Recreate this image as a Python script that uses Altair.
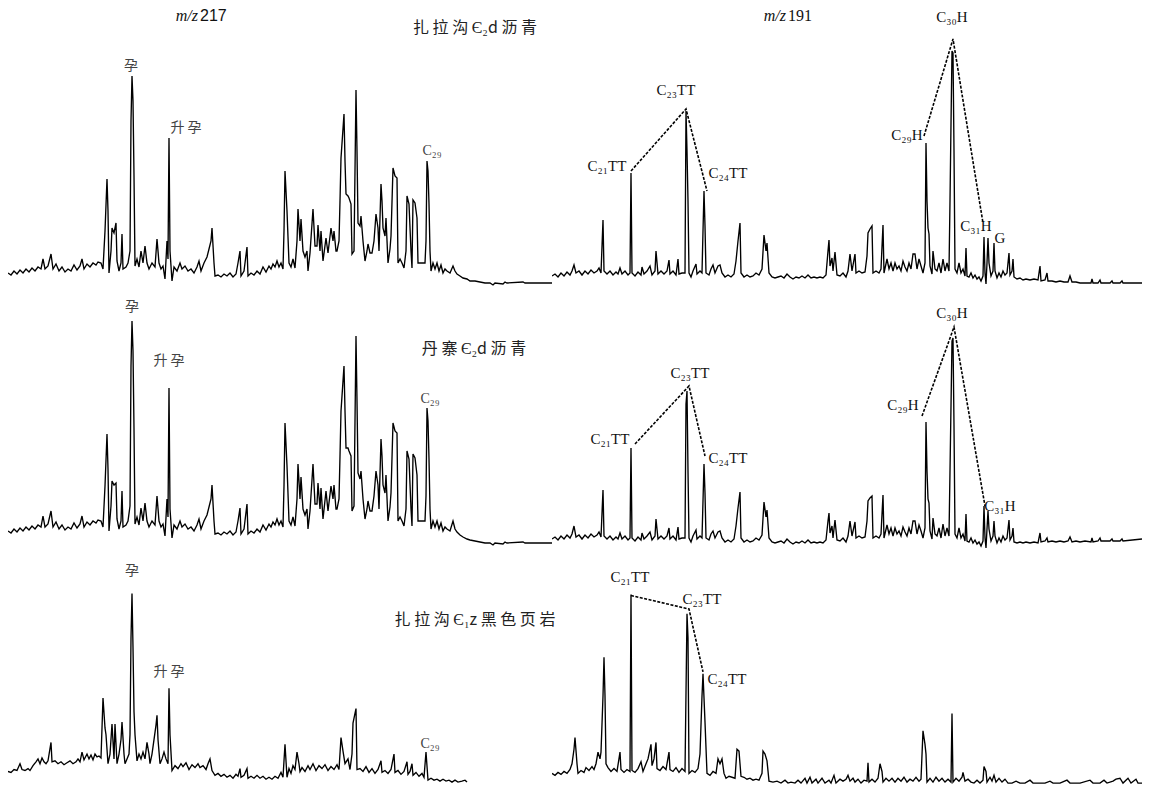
import altair as alt
import pandas as pd

SERIF = "Liberation Serif"
SANS = "Liberation Sans"
CJK = "Noto Sans CJK SC"

# ---------------- traces: (scan, abundance) ----------------
# m/z 217, 扎拉沟 Є2d 沥青
A_TRACE = [
    (0, 23), (3, 21), (6, 25), (9, 22), (12, 26), (15, 23), (18, 27), (21, 24), (24, 28), (27, 25),
    (30, 29), (33, 27), (35, 37), (37, 27), (40, 30), (43, 42), (45, 27), (48, 32), (51, 25), (54, 29),
    (57, 24), (60, 27), (63, 25), (66, 31), (69, 26), (72, 30), (74, 37), (76, 27), (79, 32), (82, 29),
    (85, 33), (88, 31), (90, 34), (93, 33), (95, 27), (97, 65), (99, 117), (100, 85), (101, 23), (103, 45),
    (104, 68), (106, 63), (108, 73), (109, 35), (111, 25), (113, 33), (114, 62), (115, 27), (118, 29), (120, 33),
    (122, 45), (123, 175), (124, 220), (125, 195), (126, 120), (127, 30), (129, 37), (131, 29), (133, 45), (135, 33),
    (137, 50), (139, 33), (141, 27), (144, 33), (147, 29), (149, 57), (151, 33), (153, 27), (155, 30), (157, 17),
    (159, 55), (160, 37), (161, 158), (162, 45), (164, 15), (166, 29), (169, 25), (172, 33), (174, 27), (177, 30),
    (180, 25), (183, 27), (186, 23), (189, 29), (191, 35), (193, 25), (196, 33), (199, 39), (201, 47), (203, 55),
    (204, 68), (206, 33), (207, 20), (210, 21), (213, 19), (216, 22), (219, 20), (222, 23), (225, 19), (228, 22),
    (230, 33), (232, 45), (233, 20), (236, 25), (239, 49), (240, 20), (243, 23), (246, 21), (249, 25), (252, 22),
    (255, 29), (258, 24), (261, 30), (263, 27), (265, 32), (267, 29), (269, 35), (271, 29), (273, 33), (275, 27),
    (276, 65), (277, 125), (279, 85), (281, 33), (283, 29), (285, 37), (287, 28), (289, 55), (290, 87), (292, 55),
    (293, 77), (295, 45), (297, 39), (299, 45), (300, 25), (302, 43), (305, 87), (307, 50), (309, 50), (310, 71),
    (312, 45), (313, 65), (315, 35), (318, 58), (320, 43), (323, 68), (325, 55), (326, 65), (328, 45), (329, 45),
    (331, 55), (332, 95), (333, 138), (336, 182), (337, 135), (338, 102), (340, 100), (341, 98), (343, 92), (344, 42),
    (346, 45), (348, 206), (349, 145), (350, 73), (352, 70), (353, 80), (355, 55), (357, 35), (359, 45), (360, 52),
    (362, 43), (364, 43), (366, 55), (368, 82), (370, 68), (371, 45), (373, 112), (374, 95), (375, 68), (377, 60),
    (378, 78), (380, 33), (382, 47), (383, 60), (385, 128), (387, 120), (389, 118), (390, 33), (392, 37), (394, 33),
    (396, 28), (398, 45), (399, 100), (401, 92), (403, 45), (404, 28), (405, 96), (407, 93), (409, 78), (410, 33),
    (412, 33), (415, 33), (417, 33), (418, 55), (419, 135), (420, 125), (421, 92), (422, 45), (423, 25), (425, 33),
    (427, 27), (429, 33), (431, 25), (433, 31), (435, 23), (437, 27), (439, 25), (442, 23), (445, 30), (447, 25),
    (449, 22), (452, 20), (455, 18), (459, 17), (462, 15), (467, 15), (472, 14), (477, 13), (482, 13), (485, 11),
    (487, 13), (495, 12), (497, 14), (499, 13), (515, 14), (517, 13), (544, 13),
]

# m/z 217, 丹寨 Є2d 沥青
B_TRACE = [
    (0, 20), (3, 18), (6, 22), (9, 19), (12, 23), (15, 20), (18, 24), (21, 21), (24, 25), (27, 22),
    (30, 26), (33, 24), (35, 35), (37, 24), (40, 27), (43, 40), (45, 24), (48, 29), (51, 22), (54, 26),
    (57, 21), (60, 24), (63, 22), (66, 28), (69, 23), (72, 27), (74, 35), (76, 24), (79, 29), (82, 26),
    (85, 30), (88, 28), (90, 31), (93, 30), (95, 24), (97, 65), (99, 117), (100, 82), (101, 20), (103, 45),
    (104, 70), (106, 66), (108, 68), (109, 32), (111, 22), (113, 30), (114, 60), (115, 24), (118, 26), (120, 30),
    (122, 45), (123, 185), (124, 230), (125, 200), (126, 122), (127, 27), (129, 34), (131, 26), (133, 43), (135, 30),
    (137, 48), (139, 30), (141, 24), (144, 30), (147, 26), (149, 55), (151, 30), (153, 24), (155, 27), (157, 15),
    (159, 52), (160, 34), (161, 163), (162, 42), (164, 13), (166, 26), (169, 22), (172, 30), (174, 24), (177, 27),
    (180, 22), (183, 24), (186, 20), (189, 26), (191, 32), (193, 22), (196, 30), (199, 36), (201, 44), (203, 52),
    (204, 66), (206, 30), (207, 17), (210, 18), (213, 16), (216, 19), (219, 17), (222, 20), (225, 16), (228, 19),
    (230, 30), (232, 43), (233, 17), (236, 22), (239, 47), (240, 17), (243, 20), (246, 18), (249, 22), (252, 19),
    (255, 26), (258, 21), (261, 27), (263, 24), (265, 29), (267, 26), (269, 32), (271, 26), (273, 30), (275, 24),
    (276, 65), (277, 128), (279, 85), (281, 30), (283, 26), (285, 34), (287, 25), (289, 52), (290, 87), (292, 52),
    (293, 74), (295, 42), (297, 36), (299, 42), (300, 22), (302, 40), (305, 87), (307, 47), (309, 47), (310, 68),
    (312, 42), (313, 63), (315, 32), (318, 60), (320, 40), (323, 65), (325, 52), (326, 66), (328, 42), (329, 42),
    (331, 52), (332, 95), (333, 140), (336, 185), (337, 140), (338, 103), (340, 103), (341, 100), (343, 95), (344, 40),
    (346, 45), (348, 215), (349, 150), (350, 78), (352, 72), (353, 80), (355, 52), (357, 32), (359, 42), (360, 50),
    (362, 40), (364, 40), (366, 55), (368, 80), (370, 66), (371, 42), (373, 112), (374, 95), (375, 66), (377, 58),
    (378, 76), (380, 30), (382, 44), (383, 58), (385, 128), (387, 120), (389, 118), (390, 30), (392, 34), (394, 30),
    (396, 25), (398, 42), (399, 100), (401, 92), (403, 42), (404, 25), (405, 97), (407, 93), (409, 76), (410, 30),
    (412, 30), (415, 30), (417, 30), (418, 55), (419, 143), (420, 130), (421, 92), (422, 42), (423, 22), (425, 30),
    (427, 24), (429, 30), (431, 22), (433, 28), (435, 20), (437, 24), (439, 22), (442, 20), (445, 30), (447, 22),
    (449, 19), (452, 16), (455, 14), (459, 12), (462, 11), (467, 10), (472, 9), (477, 8), (482, 8), (485, 6),
    (487, 8), (495, 7), (497, 9), (499, 8), (515, 9), (517, 8), (544, 8),
]

# m/z 217, 扎拉沟 Є1z 黑色页岩
C_TRACE = [
    (0, 12), (3, 11), (6, 14), (9, 13), (12, 20), (14, 14), (17, 13), (20, 15), (22, 13), (25, 18),
    (28, 22), (30, 25), (32, 20), (34, 26), (36, 22), (38, 20), (40, 23), (43, 42), (44, 22), (47, 23),
    (50, 20), (53, 22), (56, 19), (59, 21), (62, 23), (65, 20), (68, 22), (70, 25), (72, 22), (74, 32),
    (76, 24), (79, 30), (81, 25), (83, 29), (85, 24), (87, 30), (89, 27), (91, 28), (93, 26), (95, 88),
    (97, 57), (98, 50), (100, 20), (102, 30), (104, 61), (106, 25), (107, 61), (109, 20), (111, 30), (113, 45),
    (114, 63), (116, 30), (117, 20), (119, 25), (121, 30), (122, 50), (123, 150), (124, 196), (125, 140), (126, 74),
    (127, 50), (129, 23), (131, 30), (133, 25), (135, 32), (137, 25), (139, 42), (141, 30), (142, 20), (144, 30),
    (146, 45), (148, 60), (149, 70), (150, 45), (152, 20), (154, 25), (156, 32), (158, 25), (160, 20), (161, 98),
    (162, 50), (164, 13), (167, 18), (170, 15), (173, 20), (175, 17), (178, 21), (181, 14), (184, 19), (187, 16),
    (190, 20), (192, 16), (195, 18), (198, 14), (200, 20), (202, 25), (204, 13), (207, 8), (210, 10), (213, 7),
    (216, 9), (219, 6), (222, 8), (225, 5), (228, 9), (230, 7), (232, 15), (233, 6), (236, 8), (239, 15),
    (240, 5), (243, 7), (246, 5), (249, 8), (252, 5), (255, 7), (258, 4), (261, 6), (264, 4), (267, 7),
    (270, 5), (273, 11), (275, 6), (277, 40), (279, 6), (281, 15), (283, 10), (285, 18), (287, 14), (289, 32),
    (291, 20), (292, 12), (294, 16), (297, 12), (300, 18), (302, 14), (305, 20), (308, 13), (311, 18), (314, 15),
    (317, 19), (320, 13), (323, 17), (326, 14), (329, 19), (331, 14), (333, 47), (335, 33), (337, 20), (340, 25),
    (342, 14), (344, 30), (345, 62), (347, 72), (348, 77), (349, 14), (352, 15), (355, 12), (358, 17), (361, 11),
    (364, 15), (367, 10), (370, 14), (373, 23), (374, 11), (377, 13), (380, 10), (383, 14), (386, 30), (387, 11),
    (390, 13), (393, 9), (396, 12), (399, 22), (400, 9), (402, 12), (404, 20), (405, 8), (408, 11), (411, 7),
    (414, 10), (416, 6), (418, 32), (420, 3), (423, 5), (426, 3), (429, 4), (432, 2), (435, 4), (438, 2),
    (441, 3), (444, 1), (447, 3), (450, 1), (454, 2), (457, 3), (459, 1),
]

# m/z 191, 扎拉沟 Є2d 沥青
D_TRACE = [
    (0, 20), (3, 22), (6, 19), (9, 23), (12, 20), (15, 24), (18, 21), (20, 25), (22, 31), (24, 23),
    (27, 25), (30, 21), (33, 25), (36, 22), (39, 26), (42, 23), (45, 25), (47, 28), (49, 23), (51, 76),
    (52, 25), (55, 22), (58, 25), (61, 21), (64, 24), (66, 22), (68, 28), (70, 22), (73, 25), (76, 21),
    (78, 23), (79, 123), (80, 23), (83, 20), (86, 24), (89, 21), (90, 29), (92, 22), (95, 25), (98, 30),
    (100, 21), (103, 25), (104, 45), (106, 22), (109, 25), (112, 22), (115, 25), (117, 36), (118, 22), (121, 25),
    (124, 21), (126, 37), (127, 22), (130, 23), (133, 23), (134, 185), (135, 145), (136, 95), (137, 23), (139, 19),
    (141, 25), (144, 32), (145, 22), (148, 25), (150, 23), (151, 65), (152, 105), (153, 70), (154, 23), (157, 21),
    (159, 27), (161, 31), (163, 23), (166, 30), (168, 31), (170, 23), (173, 19), (176, 21), (179, 19), (182, 22),
    (184, 35), (186, 55), (188, 73), (189, 23), (192, 19), (195, 21), (198, 19), (201, 20), (204, 23), (207, 21),
    (210, 27), (212, 61), (214, 45), (215, 53), (217, 23), (220, 19), (223, 18), (226, 19), (229, 20), (232, 18),
    (235, 22), (238, 19), (241, 17), (244, 19), (247, 18), (250, 20), (253, 18), (256, 21), (259, 18), (262, 19),
    (265, 18), (268, 19), (271, 18), (274, 21), (276, 45), (277, 56), (278, 30), (280, 38), (281, 25), (283, 44),
    (285, 21), (288, 20), (291, 23), (294, 19), (296, 25), (298, 42), (300, 25), (303, 42), (304, 23), (307, 25),
    (310, 23), (313, 24), (315, 40), (316, 63), (318, 67), (320, 70), (321, 23), (324, 25), (327, 23), (329, 27),
    (331, 71), (332, 23), (335, 37), (337, 27), (339, 33), (341, 25), (343, 33), (345, 27), (347, 30), (349, 25),
    (351, 35), (353, 29), (355, 25), (357, 33), (359, 27), (361, 42), (363, 42), (365, 27), (367, 37), (369, 30),
    (371, 23), (373, 33), (374, 153), (375, 95), (376, 68), (377, 62), (378, 30), (380, 22), (381, 45), (383, 27),
    (385, 25), (387, 33), (389, 23), (391, 37), (393, 25), (395, 33), (397, 25), (398, 95), (399, 172), (400, 245),
    (401, 243), (402, 145), (403, 27), (405, 23), (407, 33), (409, 23), (411, 27), (413, 20), (414, 48), (415, 20),
    (417, 19), (419, 23), (421, 18), (423, 21), (425, 17), (427, 19), (429, 15), (431, 20), (432, 59), (433, 23),
    (434, 12), (435, 33), (436, 58), (437, 33), (439, 20), (441, 25), (442, 53), (443, 25), (445, 18), (447, 23),
    (449, 19), (451, 25), (453, 21), (455, 23), (457, 43), (458, 21), (460, 25), (461, 37), (462, 19), (465, 17),
    (468, 18), (471, 16), (474, 17), (478, 16), (482, 17), (486, 16), (488, 30), (489, 15), (493, 16), (495, 23),
    (496, 15), (500, 15), (504, 14), (508, 15), (512, 14), (516, 14), (518, 20), (520, 14), (524, 14), (528, 13),
    (533, 13), (539, 13), (540, 17), (541, 13), (546, 13), (548, 16), (549, 13), (558, 13), (560, 15), (561, 13),
    (568, 13), (570, 15), (571, 13), (590, 13),
]

# m/z 191, 丹寨 Є2d 沥青
E_TRACE = [
    (0, 12), (3, 14), (6, 11), (9, 15), (12, 12), (15, 16), (18, 13), (20, 17), (22, 25), (24, 14),
    (27, 16), (30, 12), (33, 16), (36, 13), (39, 17), (42, 14), (45, 16), (47, 19), (49, 14), (51, 61),
    (52, 15), (55, 12), (58, 15), (61, 11), (64, 14), (66, 12), (68, 18), (70, 12), (73, 15), (76, 11),
    (78, 13), (79, 103), (80, 13), (83, 10), (86, 14), (89, 11), (90, 18), (92, 12), (95, 15), (98, 19),
    (100, 11), (103, 15), (104, 32), (106, 12), (109, 15), (112, 12), (115, 15), (117, 23), (118, 12), (121, 15),
    (124, 11), (126, 24), (127, 12), (130, 13), (133, 13), (134, 147), (135, 160), (136, 80), (137, 13), (139, 9),
    (141, 15), (144, 21), (145, 12), (148, 15), (150, 13), (151, 50), (152, 87), (153, 58), (154, 13), (157, 11),
    (159, 17), (161, 20), (163, 13), (166, 19), (168, 20), (170, 13), (173, 9), (176, 11), (179, 9), (182, 12),
    (184, 25), (186, 43), (188, 59), (189, 13), (192, 9), (195, 11), (198, 9), (201, 10), (204, 13), (207, 11),
    (210, 16), (212, 49), (214, 34), (215, 41), (217, 13), (220, 9), (223, 8), (226, 9), (229, 10), (232, 8),
    (235, 12), (238, 9), (241, 7), (244, 9), (247, 8), (250, 10), (253, 8), (256, 11), (259, 8), (262, 9),
    (265, 8), (268, 9), (271, 8), (274, 11), (276, 30), (277, 38), (278, 18), (280, 25), (281, 13), (283, 31),
    (285, 11), (288, 10), (291, 13), (294, 9), (296, 15), (298, 30), (300, 15), (303, 29), (304, 13), (307, 15),
    (310, 13), (313, 14), (315, 30), (316, 50), (318, 53), (320, 55), (321, 13), (324, 15), (327, 13), (329, 17),
    (331, 56), (332, 13), (335, 26), (337, 17), (339, 23), (341, 15), (343, 23), (345, 17), (347, 20), (349, 15),
    (351, 24), (353, 19), (355, 15), (357, 23), (359, 17), (361, 30), (363, 30), (365, 17), (367, 26), (369, 20),
    (371, 13), (373, 23), (374, 129), (375, 80), (376, 52), (377, 48), (378, 20), (380, 12), (381, 33), (383, 17),
    (385, 15), (387, 23), (389, 13), (391, 27), (393, 15), (395, 23), (397, 15), (398, 80), (399, 145), (400, 210),
    (401, 213), (402, 125), (403, 17), (405, 13), (407, 23), (409, 13), (411, 17), (413, 10), (414, 37), (415, 10),
    (417, 9), (419, 13), (421, 8), (423, 11), (425, 7), (427, 9), (429, 5), (431, 10), (432, 45), (433, 13),
    (434, 3), (435, 22), (436, 40), (437, 22), (439, 10), (441, 15), (442, 30), (443, 15), (445, 8), (447, 13),
    (449, 9), (451, 15), (453, 11), (455, 13), (457, 31), (458, 11), (460, 15), (461, 23), (462, 9), (465, 8),
    (468, 9), (471, 8), (474, 9), (478, 8), (482, 9), (486, 8), (488, 18), (489, 9), (493, 10), (495, 13),
    (496, 9), (500, 10), (504, 9), (508, 10), (512, 9), (516, 10), (518, 14), (520, 9), (524, 10), (528, 9),
    (533, 10), (539, 9), (540, 13), (541, 9), (546, 10), (548, 13), (549, 10), (558, 10), (560, 12), (561, 10),
    (568, 10), (570, 12), (571, 10), (590, 12),
]

# m/z 191, 扎拉沟 Є1z 黑色页岩
F_TRACE = [
    (0, 10), (3, 8), (6, 11), (9, 9), (12, 12), (15, 10), (18, 14), (20, 20), (22, 35), (23, 47),
    (25, 20), (26, 10), (29, 13), (32, 11), (34, 16), (37, 13), (40, 17), (42, 14), (44, 20), (46, 32),
    (48, 25), (49, 32), (51, 90), (52, 130), (53, 90), (54, 20), (56, 16), (59, 12), (62, 15), (65, 12),
    (68, 32), (69, 14), (72, 11), (75, 14), (78, 12), (79, 195), (80, 13), (83, 11), (86, 15), (89, 22),
    (91, 12), (94, 20), (96, 25), (98, 35), (99, 40), (100, 18), (102, 25), (104, 42), (105, 15), (108, 13),
    (111, 17), (114, 14), (117, 32), (118, 14), (121, 12), (124, 16), (127, 11), (130, 15), (133, 12), (135, 175),
    (136, 150), (137, 10), (140, 13), (143, 11), (146, 15), (148, 30), (150, 90), (151, 113), (153, 63), (155, 10),
    (158, 8), (161, 12), (164, 10), (166, 25), (168, 20), (170, 25), (172, 10), (174, 5), (177, 7), (180, 6),
    (183, 5), (185, 35), (187, 33), (189, 7), (192, 6), (195, 4), (198, 5), (201, 3), (204, 4), (207, 3),
    (210, 10), (211, 33), (213, 30), (215, 23), (217, 2), (221, 1), (225, 2), (229, 0), (233, 3), (236, 0),
    (239, 1), (243, 0), (246, 3), (249, 0), (253, 5), (255, 0), (258, 6), (260, 0), (264, 4), (266, 0),
    (270, 5), (273, 0), (277, 3), (279, 0), (282, 8), (284, 0), (288, 4), (291, 2), (294, 4), (296, 8),
    (298, 2), (301, 5), (303, 1), (306, 4), (309, 0), (312, 3), (315, 2), (316, 21), (317, 1), (320, 4),
    (323, 1), (326, 5), (328, 20), (330, 12), (331, 1), (334, 5), (337, 2), (340, 5), (343, 1), (346, 5),
    (349, 2), (352, 6), (355, 1), (358, 4), (361, 2), (364, 6), (367, 2), (369, 4), (371, 54), (373, 40),
    (374, 30), (375, 1), (378, 5), (381, 1), (384, 6), (387, 2), (390, 5), (393, 1), (396, 4), (399, 1),
    (400, 72), (401, 1), (404, 5), (407, 2), (410, 6), (411, 11), (413, 2), (416, 4), (419, 1), (422, 0),
    (425, 3), (428, 0), (431, 3), (432, 17), (434, 12), (435, 1), (438, 6), (440, 2), (442, 8), (444, 1),
    (447, 5), (450, 1), (453, 4), (456, 0), (460, 0), (464, 2), (468, 0), (473, 0), (478, 3), (481, 0),
    (488, 0), (493, 0), (498, 2), (501, 0), (508, 0), (515, 3), (518, 0), (528, 0), (538, 3), (541, 0),
    (548, 0), (552, 3), (555, 0), (561, 2), (564, 4), (568, 5), (571, 0), (576, 5), (579, 0), (584, 4),
    (586, 0), (590, 0),
]

# ---------------- labels: (text, scan, abundance) ----------------
A_LATIN = [("C₂₉", 424, 145)]
A_CJK = [("孕", 123, 230), ("升 孕", 178, 168)]
A_TITLE = [("扎 拉 沟 Є₂d 沥 青", 467, 268)]
A_MZ = [("m/z", "217", 190, 280)]

B_LATIN = [("C₂₉", 422, 152)]
B_CJK = [("孕", 124, 244), ("升 孕", 161, 190)]
B_TITLE = [("丹 寨  Є₂d 沥 青", 466, 202)]

C_LATIN = [("C₂₉", 422, 40)]
C_CJK = [("孕", 124, 219), ("升 孕", 161, 115)]
C_TITLE = [("扎 拉 沟 Є₁z 黑 色 页 岩", 467, 169)]

D_LATIN = [("C₃₀H", 400, 279), ("C₂₃TT", 124, 206), ("C₂₁TT", 55, 130), ("C₂₄TT", 176, 123),
           ("C₂₉H", 355, 161), ("C₃₁H", 424, 70), ("G", 448, 58)]
D_MZ = [("m/z", "191", 234, 280)]
D_LINKS = [[(79, 125), (134, 187), (155, 105)], [(372, 160), (401, 257), (431, 73)]]

E_LATIN = [("C₃₀H", 400, 238), ("C₂₃TT", 138, 178), ("C₂₁TT", 58, 112), ("C₂₄TT", 176, 93),
           ("C₂₉H", 351, 146), ("C₃₁H", 448, 45)]
E_LINKS = [[(83, 107), (137, 165), (153, 95)], [(370, 135), (402, 224), (433, 45)]]

F_LATIN = [("C₂₁TT", 78, 213), ("C₂₃TT", 150, 190), ("C₂₄TT", 175, 108)]
F_LINKS = [[(79, 194), (137, 180), (151, 115)]]


def panel(trace, width, height, xmax, ydom, latin=None, cjk=None, title=None,
          mz=None, mz_sans=False, links=None, latin_size=15, latin_color="#111"):
    xs = alt.Scale(domain=[0, xmax], nice=False, zero=False)
    ys = alt.Scale(domain=ydom, nice=False, zero=False)

    def X():
        return alt.X("scan:Q", scale=xs, axis=None)

    def Y():
        return alt.Y("abund:Q", scale=ys, axis=None)

    df = pd.DataFrame(trace, columns=["scan", "abund"])
    layers = [alt.Chart(df).mark_line(color="black", strokeWidth=1.35, clip=True)
              .encode(x=X(), y=Y())]
    if links:
        rows = [(g, i, s, a) for g, pts in enumerate(links) for i, (s, a) in enumerate(pts)]
        ldf = pd.DataFrame(rows, columns=["grp", "ord", "scan", "abund"])
        layers.append(alt.Chart(ldf).mark_line(color="black", strokeWidth=1.6, strokeDash=[3, 1.5])
                      .encode(x=X(), y=Y(), detail="grp:N", order="ord:Q"))
    if latin:
        tdf = pd.DataFrame(latin, columns=["label", "scan", "abund"])
        layers.append(alt.Chart(tdf).mark_text(font=SERIF, fontSize=latin_size, color=latin_color,
                                               baseline="middle")
                      .encode(x=X(), y=Y(), text="label:N"))
    if cjk:
        cdf = pd.DataFrame(cjk, columns=["label", "scan", "abund"])
        layers.append(alt.Chart(cdf).mark_text(font=CJK, fontSize=14, color="#444", baseline="middle")
                      .encode(x=X(), y=Y(), text="label:N"))
    if title:
        tt = pd.DataFrame(title, columns=["label", "scan", "abund"])
        layers.append(alt.Chart(tt).mark_text(font=CJK, fontSize=16, color="#222", baseline="middle")
                      .encode(x=X(), y=Y(), text="label:N"))
    if mz:
        mdf = pd.DataFrame(mz, columns=["ital", "num", "scan", "abund"])
        layers.append(alt.Chart(mdf).mark_text(font=SERIF, fontStyle="italic", fontSize=16, color="#111",
                                               align="right", baseline="middle")
                      .encode(x=X(), y=Y(), text="ital:N"))
        layers.append(alt.Chart(mdf).mark_text(font=SANS if mz_sans else SERIF, fontSize=16,
                                               color="#111", align="left", baseline="middle", dx=2)
                      .encode(x=X(), y=Y(), text="num:N"))
    return alt.layer(*layers).properties(width=width, height=height)


LW, RW = 544, 590
H1, H2, H3 = 287, 255, 234

pA = panel(A_TRACE, LW, H1, 544, [0, 287], latin=A_LATIN, cjk=A_CJK, title=A_TITLE, mz=A_MZ,
           mz_sans=True, latin_size=14, latin_color="#444")
pD = panel(D_TRACE, RW, H1, 590, [0, 287], latin=D_LATIN, mz=D_MZ, links=D_LINKS)
pB = panel(B_TRACE, LW, H2, 544, [0, 255], latin=B_LATIN, cjk=B_CJK, title=B_TITLE,
           latin_size=14, latin_color="#444")
pE = panel(E_TRACE, RW, H2, 590, [0, 255], latin=E_LATIN, links=E_LINKS)
pC = panel(C_TRACE, LW, H3, 544, [-2, 240], latin=C_LATIN, cjk=C_CJK, title=C_TITLE,
           latin_size=14, latin_color="#444")
pF = panel(F_TRACE, RW, H3, 590, [-2, 240], latin=F_LATIN, links=F_LINKS)

row1 = alt.hconcat(pA, pD, spacing=0, bounds="flush")
row2 = alt.hconcat(pB, pE, spacing=0, bounds="flush")
row3 = alt.hconcat(pC, pF, spacing=0, bounds="flush")

chart = (alt.vconcat(row1, row2, row3, spacing=0)
         .properties(padding=0)
         .configure_view(stroke=None))

chart.save("out.html", embed_options={"renderer": "svg", "actions": False})
